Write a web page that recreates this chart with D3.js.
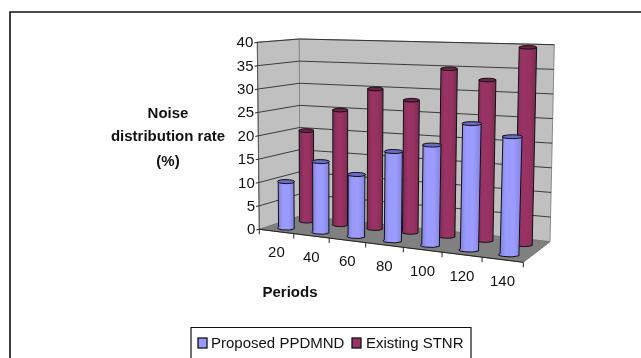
<!DOCTYPE html>
<html><head><meta charset="utf-8">
<script src="https://cdn.jsdelivr.net/npm/d3@7"></script>
<style>html,body{margin:0;padding:0;background:#fff;overflow:hidden}svg{display:block}
text{font-family:"Liberation Sans",Arial,sans-serif;fill:#111}</style></head>
<body><svg id="c" width="641" height="358"></svg>
<script>
const categories = ["20","40","60","80","100","120","140"];
const proposedPPDMND = [10,15,13,18.5,20.5,25.5,23.5];
const existingSTNR = [20,25,30,28,35,33,40];
const yTicks = [0,5,10,15,20,25,30,35,40];
const seriesNames = ["Proposed PPDMND","Existing STNR"];

// Chart box: floor corners, and the height and lean of its verticals, indexed
// as [front-left, front-right, back-right, back-left]
const floorQuad = [[259.3,229.3],[523.3,262.3],[550,241.7],[300,216]];
const boxHeight = [187,204,197,177];
const boxLean   = [-2,6,4.3,-0.7];
const perspective = 0.9;

const warp=u=>perspective*u/(1+(perspective-1)*u);
const bilin=(c,u,v)=>(c[0]*(1-u)+c[1]*u)*(1-v)+(c[3]*(1-u)+c[2]*u)*v;
const yScale=d3.scaleLinear().domain([0,40]).range([0,1]);
const uScale=d3.scaleBand().domain(categories).range([0,1]);
const P=(u0,v,val)=>{
  const u=warp(u0),t=yScale(val);
  const fx=bilin(floorQuad.map(p=>p[0]),u,v),fy=bilin(floorQuad.map(p=>p[1]),u,v);
  return [fx+bilin(boxLean,u,v)*t,fy-bilin(boxHeight,u,v)*t];
};

const svg=d3.select("#c");
const defs=svg.append("defs");
function grad(id,stops){
  const g=defs.append("linearGradient").attr("id",id).attr("x1",0).attr("x2",1).attr("y1",0).attr("y2",0);
  stops.forEach(([o,c])=>g.append("stop").attr("offset",o).attr("stop-color",c));
}
grad("gb",[[0,"#7a7ad0"],[0.3,"#9a9aff"],[0.65,"#9c9cff"],[1,"#8383e0"]]);
grad("gr",[[0,"#7c2950"],[0.35,"#993366"],[0.7,"#96325f"],[1,"#7a2a52"]]);

const root=svg.append("g").style("filter","blur(0.45px)");

// outer frame
root.append("path").attr("d","M10 358V12H641").attr("fill","none").attr("stroke","#111").attr("stroke-width",1.6);

const poly=pts=>"M"+pts.map(p=>p.map(n=>n.toFixed(1)).join(" ")).join("L")+"Z";
const line=(a,b)=>"M"+a[0]+" "+a[1]+"L"+b[0]+" "+b[1];

// walls and floor
root.append("path").attr("d",poly([P(0,0,0),P(0,1,0),P(0,1,40),P(0,0,40)])).attr("fill","#c0c0c0").attr("stroke","#8a8a8a");
root.append("path").attr("d",poly([P(0,1,0),P(1,1,0),P(1,1,40),P(0,1,40)])).attr("fill","#c0c0c0").attr("stroke","#8a8a8a");
root.append("path").attr("d",poly([P(0,0,0),P(1,0,0),P(1,1,0),P(0,1,0)])).attr("fill","#808080").attr("stroke","#777");

// gridlines
root.append("g").selectAll("path").data(yTicks.slice(1)).join("path")
  .attr("d",d=>"M"+[P(0,0,d),P(0,1,d),P(1,1,d)].map(p=>p.join(" ")).join("L"))
  .attr("fill","none").attr("stroke","#2b2b2b").attr("stroke-width",0.9);

// axis lines and ticks
root.append("path").attr("d",line(P(0,0,0),P(0,0,40))).attr("stroke","#555").attr("fill","none");
root.append("path").attr("d",line(P(0,0,0),P(1,0,0))).attr("stroke","#222").attr("fill","none");
root.append("g").selectAll("path").data(yTicks).join("path")
  .attr("d",d=>{const p=P(0,0,d);return line([p[0]-3,p[1]+0.6],p);}).attr("stroke","#222");
root.append("g").selectAll("text").data(yTicks).join("text")
  .attr("x",d=>P(0,0,d)[0]-4).attr("y",d=>P(0,0,d)[1]+5)
  .attr("text-anchor","end").attr("font-size",15).text(d=>d);
const uTicks=[...categories.map(c=>uScale(c)),1];
root.append("g").selectAll("path").data(uTicks).join("path")
  .attr("d",u=>{const p=P(u,0,0);return line(p,[p[0],p[1]+5]);}).attr("stroke","#222");
root.append("g").selectAll("text").data(categories).join("text")
  .attr("x",c=>P(uScale(c)+uScale.bandwidth()/2,0,0)[0])
  .attr("y",c=>P(uScale(c)+uScale.bandwidth()/2,0,0)[1]+26)
  .attr("text-anchor","middle").attr("font-size",15).text(c=>c);

// cylinders
function cyl(g,c,val,v,frac,fill,topFill){
  const uc=uScale(c)+uScale.bandwidth()/2,hw=uScale.bandwidth()*frac/2;
  const bl=P(uc-hw,v,0),br=P(uc+hw,v,0),tl=P(uc-hw,v,val),tr=P(uc+hw,v,val);
  const rb=(br[0]-bl[0])/2,rt=(tr[0]-tl[0])/2,ry=1.8;
  g.append("path").attr("d",`M${tl[0]} ${tl[1]}L${bl[0]} ${bl[1]}A${rb} ${ry} 0 0 0 ${br[0]} ${br[1]}L${tr[0]} ${tr[1]}Z`)
    .attr("fill",fill).attr("stroke","#111").attr("stroke-width",1);
  g.append("path").attr("d",`M${tl[0]} ${tl[1]}A${rt} ${ry} 0 0 1 ${tr[0]} ${tr[1]}A${rt} ${ry} 0 0 1 ${tl[0]} ${tl[1]}Z`)
    .attr("fill",topFill).attr("stroke","#111").attr("stroke-width",1);
}
const gr=root.append("g"), gb=root.append("g");
categories.forEach((c,i)=>cyl(gr,c,existingSTNR[i],0.76,0.43,"url(#gr)","#6b2347"));
categories.forEach((c,i)=>cyl(gb,c,proposedPPDMND[i],0.25,0.46,"url(#gb)","#6a6ac8"));

// titles
const yTitle=["Noise","distribution rate","(%)"], yTitleY=[118,141,166];
root.append("g").selectAll("text").data(yTitle).join("text")
  .attr("x",168).attr("y",(d,i)=>yTitleY[i]).attr("text-anchor","middle")
  .attr("font-size",15).attr("font-weight","bold").text(d=>d);
root.append("text").attr("x",290).attr("y",297).attr("text-anchor","middle")
  .attr("font-size",15).attr("font-weight","bold").text("Periods");

// legend
root.append("path").attr("d","M191 358V327.5H471V358").attr("fill","#fff").attr("stroke","#111").attr("stroke-width",1.2);
const lg=root.append("g");
[[198,"#9999ff",211],[352,"#993366",366]].forEach(([x,col,tx],i)=>{
  lg.append("rect").attr("x",x).attr("y",338).attr("width",9).attr("height",10).attr("fill",col).attr("stroke","#111").attr("stroke-width",1.3);
  lg.append("text").attr("x",tx).attr("y",348).attr("font-size",15).text(seriesNames[i]);
});
</script></body></html>
